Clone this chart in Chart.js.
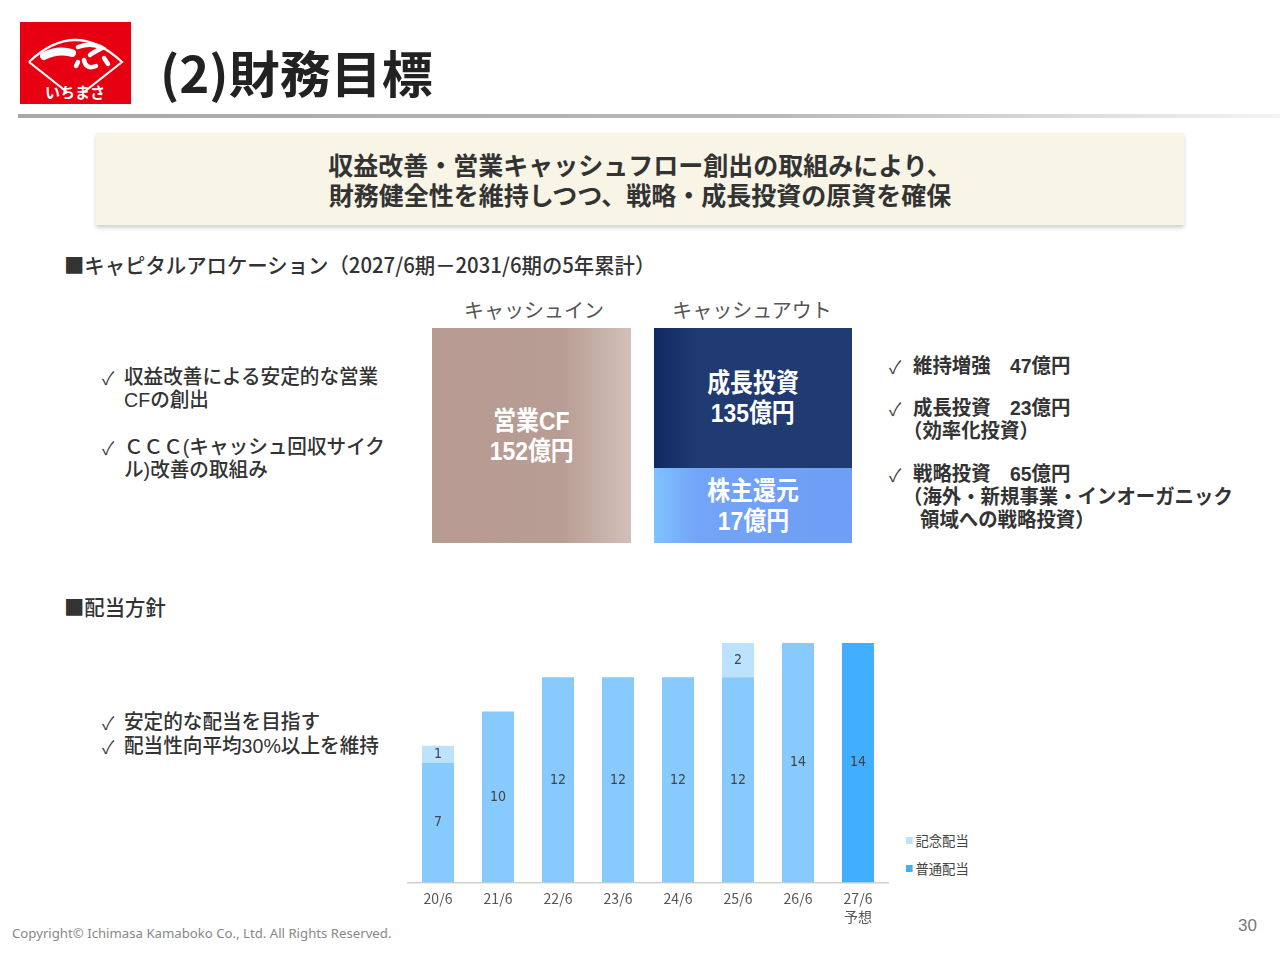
<!DOCTYPE html>
<html lang="ja">
<head>
<meta charset="utf-8">
<script src="https://cdn.jsdelivr.net/npm/chart.js@4.4.1/dist/chart.umd.min.js"></script>
<style>
  html, body { margin: 0; padding: 0; background: #fff; }
  body { width: 1280px; height: 960px; position: relative; overflow: hidden;
         font-family: "Noto Sans CJK JP", "Noto Sans", sans-serif; color: #333; }
  .abs { position: absolute; white-space: nowrap; }
  .tight { font-family: "Liberation Sans", "Noto Sans CJK JP", sans-serif; }
  #logo { left: 20px; top: 22px; width: 111px; height: 82px; background: #e60012; }
  #title { left: 160px; top: 46px; font-size: 50px; font-weight: 700; color: #222; line-height: 1; transform: scaleX(1.02); transform-origin: left top; }
  #rule { left: 18px; top: 114px; width: 1262px; height: 4px;
          background: linear-gradient(to right, #a8a8a8 0%, #b8b8b8 60%, #f4f4f4 100%); }
  #banner { left: 96px; top: 133px; width: 1088px; height: 92px; background: #f8f5e7;
            box-shadow: 0 3px 4px rgba(0,0,0,0.18); }
  .bline { position: absolute; left: 0; width: 1088px; text-align: center; font-size: 25px; font-weight: 700; line-height: 30px; color: #333; }
  .head { font-size: 21px; font-weight: 500; color: #333; line-height: 26px; transform: scaleX(0.97); transform-origin: left top; }
  .cap { font-size: 20px; color: #555; transform: translateX(-50%); }
  .block { position: absolute; color: #fff; font-weight: 700; font-size: 26px; line-height: 30px;
           display: flex; flex-direction: column; align-items: center; justify-content: center; }
  .block span { transform: scaleX(0.88); }
  .bul { font-size: 20px; font-weight: 700; color: #333; line-height: 20px; transform: scaleX(0.97); transform-origin: left top; }
  .bul2 { font-size: 20px; font-weight: 500; color: #333; line-height: 20px; transform: scaleX(0.98); transform-origin: left top; }
  .chk { font-size: 18px; font-weight: 400; color: #444; line-height: 20px; }
  #chartBox { left: 400px; top: 633px; width: 496px; height: 300px; }
  .leg { font-size: 14px; color: #444; line-height: 16px; transform: scaleX(0.95); transform-origin: left top; }
  .leg i { display: inline-block; width: 7px; height: 7px; margin-right: 3px; vertical-align: 2px; }
</style>
</head>
<body>

<div id="logo" class="abs">
  <svg width="111" height="82" viewBox="0 0 111 82">
    <path d="M9 40 Q55 -4 102 40 L64 70 M47 70 L9 40" fill="none" stroke="#fff" stroke-width="2.2"/>
    <path d="M24 34 Q38 27 52 31" fill="none" stroke="#fff" stroke-width="8" stroke-linecap="round"/>
    <path d="M58 25 Q72 20 82 26 Q74 30 70 33 M64 38 Q66 48 76 44 M58 40 L56 44 M84 36 L88 42" fill="none" stroke="#fff" stroke-width="4.5" stroke-linecap="round"/>
    <text x="55" y="76" text-anchor="middle" fill="#fff" font-size="15" font-weight="700" font-family="Noto Sans CJK JP">いちまさ</text>
  </svg>
</div>
<div id="title" class="abs">(2)財務目標</div>
<div id="rule" class="abs"></div>

<div id="banner" class="abs">
  <div class="bline tight" style="top:18px">収益改善・営業キャッシュフロー創出の取組みにより、</div>
  <div class="bline tight" style="top:48px">財務健全性を維持しつつ、戦略・成長投資の原資を確保</div>
</div>

<div class="abs head" style="left:64px; top:251px">■キャピタルアロケーション（2027/6期－2031/6期の5年累計）</div>

<div class="abs cap" style="left:534px; top:295px">キャッシュイン</div>
<div class="abs cap" style="left:752px; top:295px">キャッシュアウト</div>

<div class="block tight" style="left:432px; top:328px; width:199px; height:215px;
     background: linear-gradient(to right, #b79b92 0%, #b89d94 65%, #d2c0b8 100%);">
  <span>営業CF</span><span>152億円</span>
</div>
<div class="block tight" style="left:654px; top:328px; width:198px; height:140px;
     background: linear-gradient(to right, #0f2a62 0%, #203a72 22%, #203a72 100%);">
  <span>成長投資</span><span>135億円</span>
</div>
<div class="block tight" style="left:654px; top:468px; width:198px; height:75px;
     background: linear-gradient(to right, #80c2ff 0%, #72a4f7 22%, #6e9ef5 100%);">
  <span>株主還元</span><span>17億円</span>
</div>

<!-- left bullets -->
<div class="abs chk" style="left:102px; top:367px">✓</div>
<div class="abs bul2 tight" style="left:124px; top:367px">収益改善による安定的な営業</div>
<div class="abs bul2 tight" style="left:124px; top:390px">CFの創出</div>
<div class="abs chk" style="left:102px; top:437px">✓</div>
<div class="abs bul2 tight" style="left:124px; top:437px">ＣＣＣ(キャッシュ回収サイク</div>
<div class="abs bul2 tight" style="left:124px; top:460px">ル)改善の取組み</div>

<!-- right bullets -->
<div class="abs chk" style="left:889px; top:356px">✓</div>
<div class="abs bul tight" style="left:913px; top:356px">維持増強　47億円</div>
<div class="abs chk" style="left:889px; top:398px">✓</div>
<div class="abs bul tight" style="left:913px; top:398px">成長投資　23億円</div>
<div class="abs bul tight" style="left:903px; top:421px">（効率化投資）</div>
<div class="abs chk" style="left:889px; top:464px">✓</div>
<div class="abs bul tight" style="left:913px; top:464px">戦略投資　65億円</div>
<div class="abs bul tight" style="left:903px; top:487px">（海外・新規事業・インオーガニック</div>
<div class="abs bul tight" style="left:920px; top:510px">領域への戦略投資）</div>

<div class="abs head" style="left:64px; top:593px">■配当方針</div>
<div class="abs chk" style="left:102px; top:712px">✓</div>
<div class="abs bul2 tight" style="left:124px; top:712px">安定的な配当を目指す</div>
<div class="abs chk" style="left:102px; top:736px">✓</div>
<div class="abs bul2 tight" style="left:124px; top:736px">配当性向平均30%以上を維持</div>

<div id="chartBox" class="abs"><canvas id="divChart"></canvas></div>

<div class="abs leg" style="left:906px; top:832px"><i style="background:#bde2fd"></i>記念配当</div>
<div class="abs leg" style="left:906px; top:860px"><i style="background:#42aeff"></i>普通配当</div>

<div class="abs" style="left:12px; top:924px; font-size:13.2px; color:#888; font-family:'Noto Sans',sans-serif">Copyright© Ichimasa Kamaboko Co., Ltd. All Rights Reserved.</div>
<div class="abs" style="left:1238px; top:916px; font-size:17px; color:#777; font-family:'Liberation Sans Narrow',sans-serif">30</div>

<script>
// 配当方針 data
const periods = [['20/6'], ['21/6'], ['22/6'], ['23/6'], ['24/6'], ['25/6'], ['26/6'], ['27/6', '予想']];
const ordinaryDiv = [7, 10, 12, 12, 12, 12, 14, 14];
const commemorativeDiv = [1, 0, 0, 0, 0, 2, 0, 0];
const ordinaryColors = ['#86cafe', '#86cafe', '#86cafe', '#86cafe', '#86cafe', '#86cafe', '#86cafe', '#42aeff'];

// simple inline value labels (no datalabels plugin available offline)
const valueLabels = {
  id: 'valueLabels',
  afterDatasetsDraw(chart) {
    const ctx = chart.ctx;
    ctx.save();
    ctx.font = '14px "Liberation Sans Narrow", "DejaVu Sans Condensed", sans-serif';
    ctx.fillStyle = '#444';
    ctx.textAlign = 'center';
    ctx.textBaseline = 'middle';
    chart.data.datasets.forEach((ds, i) => {
      chart.getDatasetMeta(i).data.forEach((bar, j) => {
        const v = ds.data[j];
        if (!v) return;
        const mid = (bar.y + bar.base) / 2;
        ctx.fillText(String(v), bar.x, mid);
      });
    });
    ctx.restore();
  }
};

const ctxDiv = document.getElementById('divChart');
if (ctxDiv) {
  new Chart(ctxDiv, {
    type: 'bar',
    data: {
      labels: periods,
      datasets: [
        {
          label: '普通配当',
          data: ordinaryDiv,
          backgroundColor: ordinaryColors,
          stack: 's'
        },
        {
          label: '記念配当',
          data: commemorativeDiv,
          backgroundColor: '#bde2fd',
          stack: 's'
        }
      ]
    },
    plugins: [valueLabels],
    options: {
      responsive: true,
      maintainAspectRatio: false,
      animation: false,
      layout: { padding: { left: 8, right: 8, top: 10, bottom: 0 } },
      datasets: { bar: { categoryPercentage: 1, barPercentage: 0.533 } },
      plugins: {
        legend: { display: false },
        tooltip: { enabled: false }
      },
      scales: {
        x: {
          stacked: true,
          grid: { display: false, drawTicks: false },
          border: { display: true, color: '#d0d0d0', width: 1.5 },
          ticks: {
            color: '#555',
            padding: 7,
            font: { size: 14, family: '"Liberation Sans Narrow", "Noto Sans CJK JP", sans-serif', lineHeight: 1.3 }
          }
        },
        y: {
          stacked: true,
          display: false,
          min: 0,
          max: 14
        }
      }
    }
  });
}
</script>
</body>
</html>
